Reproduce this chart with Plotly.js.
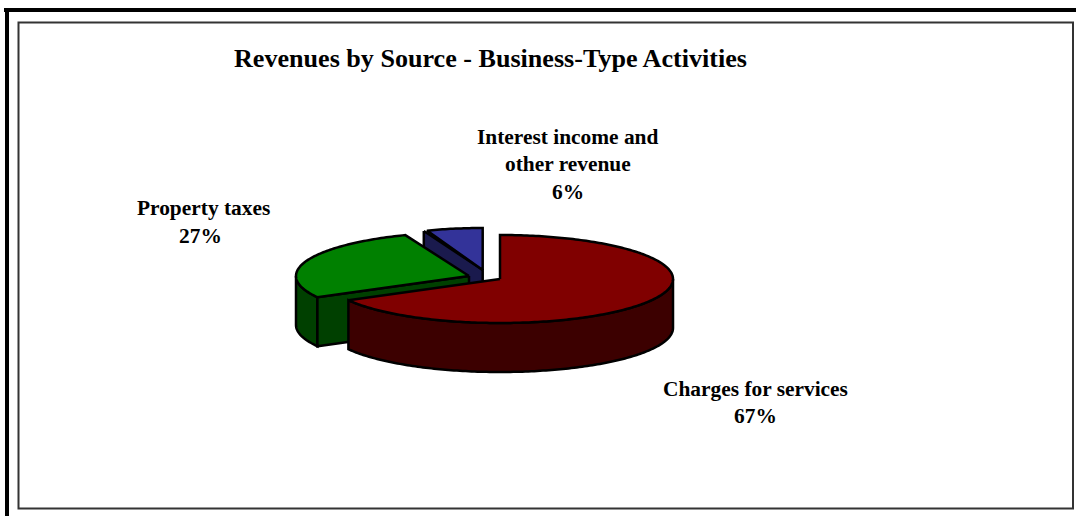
<!DOCTYPE html>
<html>
<head>
<meta charset="utf-8">
<script src="https://cdn.plot.ly/plotly-3.0.1.min.js"></script>
<style>html,body{margin:0;padding:0;background:#fff;overflow:hidden}#c{width:1076px;height:516px}</style>
</head>
<body>
<div id="c"></div>
<script>
const titleText = "Revenues by Source - Business-Type Activities";
const categories = ["Charges for services", "Property taxes", "Interest income and other revenue"];
const shares = [67, 27, 6];
const shareLabels = ["67%", "27%", "6%"];
const topColors = ["#800000", "#008000", "#333399"];
const wallColors = ["#3c0000", "#004000", "#1a1a4d"];

const centersX = [500, 469, 482.7];
const centersY = [279, 276, 270];
const radiiX = [173, 173, 160];
const radiiY = [44, 44, 42];
const depth = 49;

const pt = (i, deg, dz) => {
  const r = deg * Math.PI / 180;
  return [centersX[i] + radiiX[i] * Math.sin(r), centersY[i] - radiiY[i] * Math.cos(r) + (dz || 0)];
};
const arc = (i, a, b, dz) => {
  const out = [];
  const n = Math.max(2, Math.ceil(Math.abs(b - a)));
  for (let k = 0; k <= n; k++) out.push(pt(i, a + (b - a) * k / n, dz));
  return out;
};
const poly = (pts, color) => ({
  type: "scatter", mode: "lines", fill: "toself", fillcolor: color,
  x: pts.map(p => p[0]).concat([pts[0][0]]),
  y: pts.map(p => p[1]).concat([pts[0][1]]),
  line: {color: "#000", width: 2.5, simplify: false},
  hoverinfo: "skip", showlegend: false
});

// cumulative clockwise angles from 12 o'clock
const starts = [];
let acc = 0;
shares.forEach(s => { starts.push(acc); acc += s * 3.6; });
const ends = shares.map((s, i) => starts[i] + s * 3.6);
const apex = (i, dz) => [centersX[i], centersY[i] + (dz || 0)];

const traces = [];
// blue: cut-face wall, then top
{
  const i = 2, a = starts[i], b = ends[i];
  traces.push(poly([pt(i, a), apex(i), apex(i, depth), pt(i, a, depth)], wallColors[i]));
  traces.push(poly([apex(i)].concat(arc(i, a + 1.2, b)), topColors[i]));
}
// green: outer wall, cut-face wall, top
{
  const i = 1, a = starts[i], b = ends[i];
  traces.push(poly(arc(i, a, 270).concat(arc(i, 270, a, depth)), wallColors[i]));
  traces.push(poly([apex(i), pt(i, a), pt(i, a, depth), apex(i, depth)], wallColors[i]));
  traces.push(poly([apex(i)].concat(arc(i, a, b)), topColors[i]));
}
// red: outer wall, top
{
  const i = 0, a = starts[i], b = ends[i];
  traces.push(poly(arc(i, 90, b).concat(arc(i, b, 90, depth)), wallColors[i]));
  traces.push(poly([apex(i)].concat(arc(i, a, b)), topColors[i]));
}

const labelFont = {family: "Liberation Serif", size: 21.4, color: "#000"};
const txt = (t, x, y, size) => ({
  text: "<b>" + t + "</b>", x, y, xref: "x", yref: "y", showarrow: false,
  xanchor: "center", yanchor: "middle",
  font: Object.assign({}, labelFont, size ? {size} : {})
});
const annotations = [
  txt(titleText, 490, 58, 26.1),
  txt("Interest income and", 568, 137),
  txt("other revenue", 568, 164),
  txt(shareLabels[2], 568, 192),
  txt(categories[1], 203, 208),
  txt(shareLabels[1], 200, 236),
  txt(categories[0], 755, 389),
  txt(shareLabels[0], 755, 416)
];

const rect = (x0, y0, x1, y1, fill, line) => ({
  type: "rect", xref: "x", yref: "y", x0, y0, x1, y1,
  fillcolor: fill, line: line || {width: 0}, layer: "below"
});
const shapes = [
  rect(5, 8, 9, 516, "#000"),
  rect(4, 8, 1076, 12, "#000"),
  rect(18.5, 22.5, 1073, 508.5, "rgba(0,0,0,0)", {color: "#333", width: 2})
];

const axis = {visible: false, showgrid: false, zeroline: false, fixedrange: true};
Plotly.newPlot("c", traces, {
  width: 1076, height: 516,
  margin: {l: 0, r: 0, t: 0, b: 0, pad: 0},
  paper_bgcolor: "#fff", plot_bgcolor: "#fff",
  xaxis: Object.assign({range: [0, 1076]}, axis),
  yaxis: Object.assign({range: [516, 0]}, axis),
  annotations, shapes, showlegend: false
}, {displayModeBar: false, staticPlot: true});
</script>
</body>
</html>
